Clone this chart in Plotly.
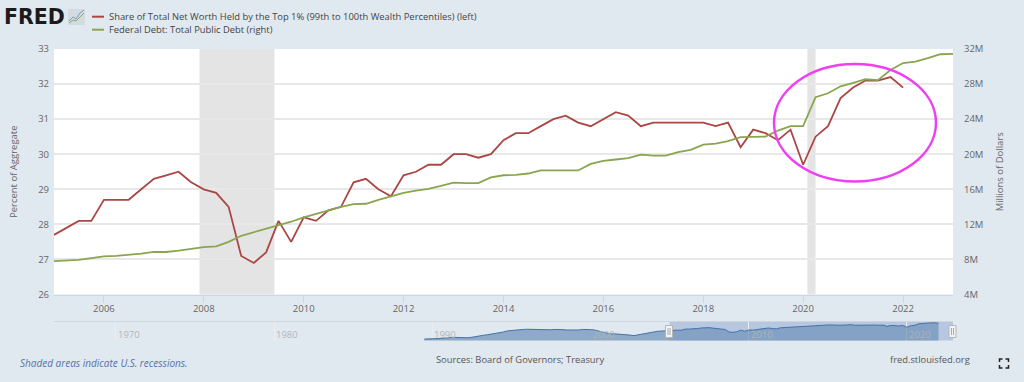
import pandas as pd
import plotly.graph_objects as go

W, H = 1024, 382

# Quarterly series, 2005 Q1 onward
share_top1 = [27.7, 27.9, 28.1, 28.1, 28.7, 28.7, 28.7, 29.0, 29.3, 29.4, 29.5, 29.2,
              29.0, 28.9, 28.5, 27.1, 26.9, 27.2, 28.1, 27.5, 28.2, 28.1, 28.4, 28.5,
              29.2, 29.3, 29.0, 28.8, 29.4, 29.5, 29.7, 29.7, 30.0, 30.0, 29.9, 30.0,
              30.4, 30.6, 30.6, 30.8, 31.0, 31.1, 30.9, 30.8, 31.0, 31.2, 31.1, 30.8,
              30.9, 30.9, 30.9, 30.9, 30.9, 30.8, 30.9, 30.2, 30.7, 30.6, 30.4, 30.7,
              29.7, 30.5, 30.8, 31.6, 31.9, 32.1, 32.1, 32.2, 31.9]
federal_debt = [7.8, 7.85, 7.95, 8.15, 8.35, 8.4, 8.5, 8.65, 8.85, 8.85, 9.0, 9.2,
                9.4, 9.5, 10.0, 10.7, 11.1, 11.55, 11.9, 12.3, 12.8, 13.2, 13.6, 14.0,
                14.3, 14.35, 14.8, 15.2, 15.6, 15.85, 16.05, 16.4, 16.75, 16.7, 16.7, 17.35,
                17.6, 17.65, 17.8, 18.15, 18.15, 18.15, 18.15, 18.9, 19.25, 19.4, 19.55, 19.95,
                19.85, 19.85, 20.25, 20.5, 21.1, 21.2, 21.5, 21.95, 22.0, 22.0, 22.7, 23.2,
                23.2, 26.5, 26.95, 27.75, 28.15, 28.55, 28.45, 29.6, 30.4, 30.55, 30.95, 31.4, 31.45]
# Navigator history, 1989 Q3 to 2004 Q4
share_history = [23.2, 23.2, 23.2, 23.3, 23.5, 23.7, 24.0, 24.1, 24.1, 24.0, 24.0, 23.9, 24.2, 24.7,
                 25.0, 25.3, 25.6, 25.9, 26.3, 26.7, 27.1, 27.7, 28.0, 28.2, 28.3, 28.5,
                 28.6, 28.5, 28.6, 28.3, 28.2, 28.4, 28.3, 28.5, 28.6, 28.4, 28.2, 28.1,
                 28.0, 28.2, 28.5, 28.6, 28.4, 28.2, 27.7, 27.2, 26.6, 26.0, 26.1, 26.0,
                 26.0, 25.9, 25.4, 25.1, 25.5, 26.0, 26.6, 26.8, 27.2, 27.5, 27.6, 27.8]
recessions = [("2007-12-01", "2009-06-01"), ("2020-02-01", "2020-04-01")]
nav_years = ["1970", "1980", "1990", "2000", "2010", "2020"]

share_name = "Share of Total Net Worth Held by the Top 1% (99th to 100th Wealth Percentiles) (left)"
debt_name = "Federal Debt: Total Public Debt (right)"

RED, GREEN = "#aa4643", "#89a54e"
BG = "#e1e9f0"
FONT = "Open Sans"

dates_share = pd.date_range("2005-01-01", periods=len(share_top1), freq="QS")
dates_debt = pd.date_range("2005-01-01", periods=len(federal_debt), freq="QS")
dates_nav = pd.date_range("1989-07-01", periods=len(share_history) + len(share_top1), freq="QS")

px = lambda x: x / W
py = lambda y: 1 - y / H

fig = go.Figure()
fig.add_trace(go.Scatter(x=dates_debt, y=federal_debt, name=debt_name, yaxis="y2", mode="lines",
                         line=dict(color=GREEN, width=1.8)))
fig.add_trace(go.Scatter(x=dates_share, y=share_top1, name=share_name, mode="lines",
                         line=dict(color=RED, width=1.8)))
fig.add_trace(go.Scatter(x=dates_nav, y=share_history + share_top1, xaxis="x3", yaxis="y3", mode="lines",
                         fill="tozeroy", fillcolor="rgba(114,148,186,0.74)",
                         line=dict(color="#4572a7", width=1), name="Navigator"))

shapes = [dict(type="rect", xref="paper", yref="paper", x0=px(54), x1=px(953), y0=py(294.5), y1=py(49),
               fillcolor="white", line_width=0, layer="below")]
for start, end in recessions:
    shapes.append(dict(type="rect", xref="x", yref="paper", x0=start, x1=end, y0=py(294.5), y1=py(49),
                       fillcolor="#e4e4e4", line_width=0, layer="between"))
# navigator selection band
shapes.append(dict(type="rect", xref="x3", yref="paper", x0="2005-01-01", x1="2022-12-01",
                   y0=py(340.5), y1=py(322), fillcolor="#b7c7e2", line_width=0, layer="below"))
# navigator outline and handles
shapes.append(dict(type="line", xref="paper", yref="paper", x0=px(54), x1=px(953), y0=py(321.5), y1=py(321.5),
                   line=dict(color="#cfd5de", width=1)))
for hx in (669, 952.5):
    shapes.append(dict(type="rect", xref="paper", yref="paper", x0=px(hx - 3.5), x1=px(hx + 3.5),
                       y0=py(337.5), y1=py(325.5), fillcolor="#f4f4f4", line=dict(color="#b5b5b5", width=1)))
    for dx in (-1, 1):
        shapes.append(dict(type="line", xref="paper", yref="paper", x0=px(hx + dx), x1=px(hx + dx),
                           y0=py(335), y1=py(328), line=dict(color="#a8a8a8", width=1)))
# legend samples
for yy, col in ((16.7, RED), (29.7, GREEN)):
    shapes.append(dict(type="line", xref="paper", yref="paper", x0=px(92), x1=px(104), y0=py(yy), y1=py(yy),
                       line=dict(color=col, width=2)))
# hand-drawn highlight ellipse
shapes.append(dict(type="circle", xref="paper", yref="paper", x0=px(774), x1=px(936), y0=py(181.5), y1=py(64),
                   line=dict(color="#ee3ff0", width=2.5)))
# logo icon
shapes.append(dict(type="rect", xref="paper", yref="paper", x0=px(68), x1=px(85), y0=py(25), y1=py(9),
                   fillcolor="#d3dbe0", line_width=0))
shapes.append(dict(type="path", xref="paper", yref="paper", line=dict(color="#7f9cc0", width=1),
                   path=f"M {px(69)} {py(21)} L {px(73)} {py(17)} L {px(76)} {py(19)} L {px(80)} {py(13)} L {px(84)} {py(10)}"))
shapes.append(dict(type="path", xref="paper", yref="paper", line=dict(color="#8fa866", width=1),
                   path=f"M {px(69)} {py(23)} L {px(73)} {py(20)} L {px(76)} {py(21)} L {px(80)} {py(17)} L {px(84)} {py(13)}"))
# fullscreen icon corners
for cx, cy, sx, sy in ((999.5, 359, 1, 1), (1008.5, 359, -1, 1), (999.5, 368, 1, -1), (1008.5, 368, -1, -1)):
    shapes.append(dict(type="path", xref="paper", yref="paper", line=dict(color="#222222", width=1.5),
                       path=f"M {px(cx)} {py(cy + 3 * sy)} L {px(cx)} {py(cy)} L {px(cx + 3 * sx)} {py(cy)}"))


def note(text, x, y, size, color, anchor="left", **kw):
    return dict(text=text, x=px(x), y=py(y), xref="paper", yref="paper", showarrow=False, xanchor=anchor,
                yanchor="middle", font=dict(family=kw.pop("family", FONT), size=size, color=color), **kw)


annotations = [
    note("<b>FRED</b>", 1.5, 17, 20.5, "#1c1a1a", family="DejaVu Sans"),
    note(share_name, 106.5, 16.5, 9.4, "#444444"),
    note(debt_name, 106.5, 29.5, 9.4, "#444444"),
    note("<i>Shaded areas indicate U.S. recessions.</i>", 18, 363, 10, "#5573a6"),
    note("Sources: Board of Governors; Treasury", 519.5, 359, 9.35, "#555555", anchor="center"),
    note("fred.stlouisfed.org", 930, 359, 9.35, "#555555", anchor="center"),
]
for yr in nav_years:
    annotations.append(dict(text=yr, x=f"{yr}-11-01", y=py(334.5), xref="x3", yref="paper", showarrow=False,
                            xanchor="center", yanchor="middle",
                            font=dict(family=FONT, size=9.5, color="#b0b5ba")))

tick_font = dict(family=FONT, size=9.5, color="#666666")
title_font = dict(family=FONT, size=9.5, color="#666666")

fig.update_layout(
    width=W, height=H, autosize=False, margin=dict(l=0, r=0, t=0, b=0),
    paper_bgcolor=BG, plot_bgcolor=BG, showlegend=False, hovermode=False,
    font=dict(family=FONT),
    xaxis=dict(domain=[px(54), px(953)], type="date", range=["2005-01-01", "2023-01-01"],
               tick0="2006-01-01", dtick="M24", tickformat="%Y", ticks="outside", ticklen=7, tickwidth=1,
               tickcolor="#ccd6eb", showgrid=False, showline=True, linecolor="#ccd6eb", linewidth=1,
               tickfont=tick_font, anchor="y", zeroline=False, automargin=False, ticklabelstandoff=-2),
    yaxis=dict(domain=[py(294.5), py(49)], range=[26, 33], dtick=1, gridcolor="#e8e8e8", gridwidth=1.5,
               tickfont=tick_font, ticks="", zeroline=False, anchor="x", ticklabelstandoff=4, automargin=False,
               title=dict(text="Percent of Aggregate", font=title_font, standoff=18)),
    yaxis2=dict(domain=[py(294.5), py(49)], range=[4, 32], dtick=4, ticksuffix="M", side="right", overlaying="y",
                showgrid=False, tickfont=tick_font, ticks="", zeroline=False, anchor="x", ticklabelstandoff=10,
                automargin=False, title=dict(text="Millions of Dollars", font=title_font, standoff=13)),
    xaxis3=dict(domain=[px(54), px(953)], type="date", range=["1966-02-01", "2022-12-01"], anchor="y3",
                tick0="1970-01-01", dtick="M120", showticklabels=False, ticks="", showgrid=True,
                gridcolor="#e9eef3", zeroline=False, showline=False, automargin=False),
    yaxis3=dict(domain=[py(340.5), py(322)], range=[22.4, 32.6], anchor="x3", showticklabels=False, ticks="",
                showgrid=False, zeroline=False, automargin=False),
    shapes=shapes, annotations=annotations,
)

fig.write_html("out.html", config=dict(displayModeBar=False),
               post_script="document.body.style.margin='0';document.body.style.overflow='hidden';")
